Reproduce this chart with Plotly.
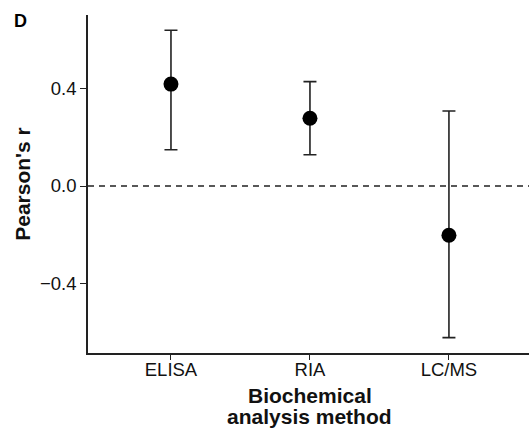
import plotly.graph_objects as go

methods = ["ELISA", "RIA", "LC/MS"]
r_values = [0.418, 0.278, -0.202]
ci_upper = [0.639, 0.428, 0.308]
ci_lower = [0.149, 0.128, -0.622]
y_ticks = [-0.4, 0.0, 0.4]
y_tick_text = ["\u22120.4", "0.0", "0.4"]
x_title_lines = ["Biochemical", "analysis method"]

xpos = [1, 2, 3]
err_plus = [u - v for u, v in zip(ci_upper, r_values)]
err_minus = [v - l for v, l in zip(r_values, ci_lower)]

fig = go.Figure()
fig.add_trace(go.Scatter(
    x=xpos, y=r_values, mode="markers",
    marker=dict(color="black", size=15),
    error_y=dict(type="data", symmetric=False, array=err_plus, arrayminus=err_minus,
                 color="#222222", thickness=1.6, width=6.5),
    showlegend=False,
))
fig.add_shape(type="line", xref="paper", yref="y", x0=0, x1=1, y0=0, y1=0,
              line=dict(color="#222222", width=1.5, dash="6px,5px"), layer="below")

font_family = "Liberation Sans, Arial, Helvetica, sans-serif"
annots = [dict(text="<b>D</b>", xref="paper", yref="paper", x=-0.172, y=0.982,
               xanchor="left", yanchor="middle", showarrow=False,
               font=dict(size=18, color="black"))]
for line, yp in zip(x_title_lines, [-0.127, -0.189]):
    annots.append(dict(text="<b>" + line + "</b>", xref="paper", yref="paper", x=0.503, y=yp,
                       xanchor="center", yanchor="middle", showarrow=False,
                       font=dict(size=21, color="#111111")))

fig.update_layout(
    width=529, height=432,
    margin=dict(l=88, r=0, t=15, b=79),
    plot_bgcolor="white", paper_bgcolor="white",
    font=dict(family=font_family, size=18.5, color="#111111"),
    xaxis=dict(
        range=[0.403, 3.576], tickvals=xpos, ticktext=methods,
        showline=True, linecolor="#222222", linewidth=1.6,
        ticks="outside", ticklen=5, tickwidth=1.4, tickcolor="#222222",
        showgrid=False, zeroline=False, ticklabelstandoff=-6,
    ),
    yaxis=dict(
        range=[-0.685, 0.7015], tickvals=y_ticks, ticktext=y_tick_text,
        showline=True, linecolor="#222222", linewidth=1.6,
        ticks="outside", ticklen=6, tickwidth=1.4, tickcolor="#222222",
        showgrid=False, zeroline=False,
        title=dict(text="<b>Pearson's r</b>", font=dict(size=21), standoff=4),
    ),
    annotations=annots,
)

fig.write_html("out.html")
